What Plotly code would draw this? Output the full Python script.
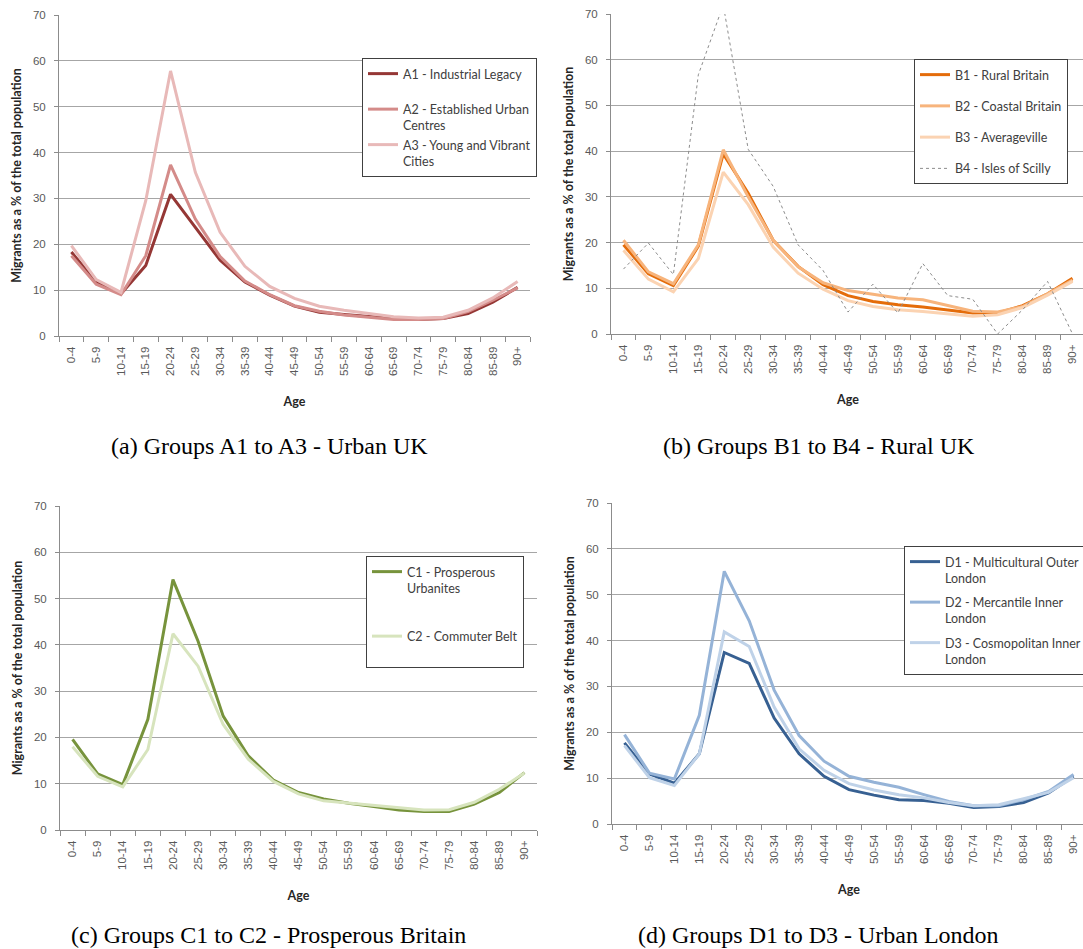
import plotly.graph_objects as go

ages = ["0-4", "5-9", "10-14", "15-19", "20-24", "25-29", "30-34", "35-39", "40-44",
        "45-49", "50-54", "55-59", "60-64", "65-69", "70-74", "75-79", "80-84", "85-89", "90+"]

a1 = [18.3, 11.8, 9.2, 15.4, 30.9, 23.8, 16.5, 11.8, 8.9, 6.5, 5.2, 4.7, 4.3, 3.8, 3.6, 3.8, 4.9, 7.4, 10.6]
a2 = [17.5, 11.3, 9.0, 17.5, 37.3, 25.5, 17.3, 12.0, 9.0, 6.6, 5.4, 4.6, 4.1, 3.6, 3.6, 3.8, 5.3, 7.8, 10.5]
a3 = [19.7, 12.3, 9.5, 29.5, 57.8, 35.7, 22.6, 15.2, 10.8, 8.2, 6.5, 5.6, 4.9, 4.2, 3.9, 4.1, 5.6, 8.3, 11.9]

b1 = [19.5, 13.2, 10.6, 19.2, 39.4, 30.8, 20.5, 14.8, 10.8, 8.4, 7.1, 6.4, 5.9, 5.3, 4.6, 4.6, 6.2, 8.8, 12.2]
b2 = [20.5, 13.6, 11.0, 19.5, 40.3, 30.0, 20.5, 14.7, 11.2, 9.5, 8.7, 7.9, 7.5, 6.3, 5.0, 4.8, 6.0, 8.8, 11.8]
b3 = [18.3, 12.0, 9.2, 16.5, 35.4, 28.3, 19.0, 13.3, 9.8, 7.3, 6.0, 5.3, 4.9, 4.4, 3.9, 4.2, 5.8, 8.5, 11.5]
b4 = [14.2, 19.9, 13.0, 56.7, 72.0, 40.4, 32.3, 19.5, 13.9, 4.8, 10.9, 4.6, 15.4, 8.4, 7.6, 0.0, 5.3, 11.5, 0.0]

c1 = [19.6, 12.1, 9.8, 23.9, 54.1, 40.8, 24.6, 16.0, 10.8, 8.1, 6.7, 5.8, 5.1, 4.3, 4.0, 4.0, 5.6, 8.1, 12.4]
c2 = [18.0, 11.6, 9.3, 17.4, 42.4, 35.4, 22.8, 15.3, 10.5, 7.8, 6.3, 5.8, 5.2, 4.7, 4.3, 4.4, 6.0, 8.8, 12.3]

d1 = [17.7, 10.9, 8.9, 15.3, 37.4, 35.0, 23.1, 15.3, 10.4, 7.5, 6.3, 5.3, 5.1, 4.5, 3.6, 3.8, 4.7, 6.8, 10.4]
d2 = [19.5, 11.1, 9.8, 23.7, 55.1, 44.3, 29.2, 19.3, 13.7, 10.4, 9.1, 8.0, 6.4, 4.9, 4.0, 4.0, 5.3, 7.1, 10.8]
d3 = [17.1, 10.1, 8.4, 15.3, 41.9, 38.7, 25.5, 16.4, 11.7, 8.8, 7.4, 6.4, 5.7, 4.7, 4.0, 4.2, 5.5, 6.9, 10.1]

y_ticks = [0, 10, 20, 30, 40, 50, 60, 70]

captions = ["(a) Groups A1 to A3 - Urban UK", "(b) Groups B1 to B4 - Rural UK",
            "(c) Groups C1 to C2 - Prosperous Britain", "(d) Groups D1 to D3 - Urban London"]

# the figure is a little wider than the 1083px window: the reference is cropped on the right
W, H = 1110, 949

def px_x(p):
    return p / W

def px_y(p):
    return 1 - p / H

fig = go.Figure()

series = [
    (a1, "A1 - Industrial Legacy<br> ", "#953735", 3, "solid", 1),
    (a2, "A2 - Established Urban<br>Centres", "#D48B89", 3, "solid", 1),
    (a3, "A3 - Young and Vibrant<br>Cities", "#E8B9B8", 3, "solid", 1),
    (b1, "B1 - Rural Britain", "#E46C0A", 3, "solid", 2),
    (b2, "B2 - Coastal Britain", "#F7B47C", 3, "solid", 2),
    (b3, "B3 - Averageville", "#FBD3B2", 3, "solid", 2),
    (b4, "B4 - Isles of Scilly", "#8C8C8C", 1, "dot", 2),
    (c1, "C1 - Prosperous<br>Urbanites", "#77933C", 3, "solid", 3),
    (c2, "C2 - Commuter Belt<br> ", "#D7E4BD", 3, "solid", 3),
    (d1, "D1 - Multicultural Outer<br>London", "#376092", 3, "solid", 4),
    (d2, "D2 - Mercantile Inner<br>London", "#95B3D7", 3, "solid", 4),
    (d3, "D3 - Cosmopolitan Inner<br>London", "#BFD2E8", 3, "solid", 4),
]

for i, (vals, name, color, width, dash, k) in enumerate(series):
    suffix = "" if k == 1 else str(k)
    fig.add_trace(go.Scatter(
        x=ages, y=vals, mode="lines", name=name,
        line=dict(color=color, width=width, dash=dash),
        xaxis="x" + suffix, yaxis="y" + suffix,
        legend="legend" + suffix, legendgroup="g%d" % i,
        hoverinfo="skip",
    ))

panels = [
    (59, 530, 15, 336),
    (611, 1085, 14, 334),
    (60, 537, 506, 830),
    (612, 1086, 503, 824),
]

grid_col = "#A6A6A6"
axis_col = "#8C8C8C"
tick_font = dict(family="Liberation Sans, Arial", size=11.5, color="#595959")
title_font = dict(family="Lato, Carlito, sans-serif", size=12.5, color="#262626")

layout = dict(
    width=W, height=H,
    margin=dict(l=0, r=0, t=0, b=0),
    paper_bgcolor="white", plot_bgcolor="white",
    showlegend=True,
)

for k, (l, r, t, b) in enumerate(panels, start=1):
    suffix = "" if k == 1 else str(k)
    layout["xaxis" + suffix] = dict(
        domain=[px_x(l), px_x(r)], anchor="y" + suffix,
        type="category", range=[-0.5, 18.5],
        tickangle=-90, tickson="boundaries", ticks="outside", ticklen=5,
        tickcolor=axis_col, showline=True, linecolor=axis_col, linewidth=1,
        showgrid=False, tickfont=tick_font, automargin=False, ticklabelstandoff=5,
        title=dict(text="<b>Age</b>", font=title_font, standoff=22),
        fixedrange=True,
    )
    layout["yaxis" + suffix] = dict(
        domain=[px_y(b), px_y(t)], anchor="x" + suffix,
        range=[0, 70], tickvals=y_ticks, ticks="outside", ticklen=4,
        tickcolor=axis_col, showline=True, linecolor=axis_col, linewidth=1,
        showgrid=True, gridcolor=grid_col, gridwidth=1, zeroline=False,
        tickfont=tick_font, automargin=False, ticklabelstandoff=6,
        title=dict(text="<b>Migrants as a % of the total population</b>", font=title_font, standoff=8),
        fixedrange=True,
    )

legend_common = dict(
    xanchor="left", yanchor="top", bordercolor="#404040", borderwidth=1,
    bgcolor="white", font=dict(family="Lato, Carlito, sans-serif", size=12.5, color="#404040"),
    valign="top", traceorder="grouped", itemwidth=30,
)
legend_pos = [
    (362, 58, 0),
    (914, 59, 12),
    (366, 556, 29),
    (904, 546, 5),
]
for k, (lx, ly, gap) in enumerate(legend_pos, start=1):
    suffix = "" if k == 1 else str(k)
    layout["legend" + suffix] = dict(legend_common, x=px_x(lx), y=px_y(ly), tracegroupgap=gap)

caption_pos = [(269, 446), (819, 446), (268, 935), (818, 935)]
annotations = []
for text, (cx, cy) in zip(captions, caption_pos):
    annotations.append(dict(
        text=text, x=px_x(cx), y=px_y(cy), xref="paper", yref="paper",
        xanchor="center", yanchor="middle", showarrow=False,
        font=dict(family="Liberation Serif, Times New Roman, serif", size=24, color="#000000"),
    ))
layout["annotations"] = annotations

fig.update_layout(**layout)
fig.write_html(
    "out.html",
    config={"displayModeBar": False, "responsive": False},
    post_script="document.body.style.margin='0px';document.body.style.overflow='hidden';",
)
